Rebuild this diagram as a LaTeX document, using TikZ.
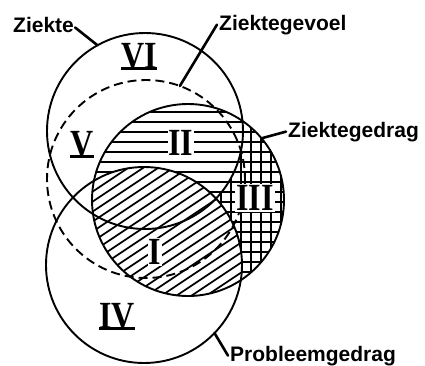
\documentclass[tikz,border=0pt]{standalone}
\usepackage{fontspec}
\setmainfont{Liberation Serif}
\setsansfont{Liberation Sans}
\usetikzlibrary{positioning}
\newcommand{\barnum}[1]{\setbox0=\hbox{#1}\rlap{\rule[-1.2pt]{\wd0}{2.4pt}}\box0}
\newcommand{\tallnum}[1]{\scalebox{1}[1.2]{#1}}

\begin{document}
\begin{tikzpicture}[x=1pt, y=-1pt,
    ring/.style={draw=black, line width=1.9pt},
    hatch/.style={line width=1.7pt},
    leader/.style={line width=2.6pt, line cap=round},
    lbl/.style={font=\sffamily\bfseries\fontsize{21}{21}\selectfont, anchor=base west, inner sep=0pt},
    num/.style={font=\rmfamily\bfseries\fontsize{32}{32}\selectfont, inner sep=1pt}]

  \useasboundingbox (0,0) rectangle (425,365);

  % circle centres
  \coordinate (zk) at (145,131);  % Ziekte
  \coordinate (gv) at (146,179);  % Ziektegevoel
  \coordinate (gd) at (188,200);  % Ziektegedrag
  \coordinate (pg) at (144,265);  % Probleemgedrag

  % hatching inside Ziektegedrag
  \begin{scope}
    \clip (gd) circle (96);
    \foreach \x in {221,231,...,291} \draw[hatch] (\x,100) -- (\x,300);
    \fill[white] (zk) circle (98) (pg) circle (98);
    \foreach \y in {102,112,...,302} \draw[hatch] (90,\y) -- (290,\y);
    \clip (pg) circle (98);
    \fill[white] (pg) circle (98);
    \foreach \c in {150,160,...,500} \draw[hatch] (80,\c) -- ++(240,-160);
  \end{scope}

  % the four circles
  \draw[ring] (zk) circle (98);
  \draw[ring, dash pattern=on 9pt off 5pt] (gv) circle (99);
  \draw[ring] (gd) circle (96);
  \draw[ring] (pg) circle (98);

  % labels
  \node[lbl] (lZk) at (13,32) {Ziekte};
  \node[lbl] (lGv) at (219,30) {Ziektegevoel};
  \node[lbl] (lGd) at (288,137) {Ziektegedrag};
  \node[lbl] (lPg) at (230,361) {Probleemgedrag};

  \path (zk) ++(241:98) coordinate (zkTip);
  \path (gv) ++(-70:99) coordinate (gvTip);
  \path (gd) ++(-40:96) coordinate (gdTip);
  \path (pg) ++(44:98) coordinate (pgTip);

  \draw[leader] ([xshift=1pt,yshift=-3pt]lZk.east) -- (zkTip);
  \draw[leader] ([xshift=-2pt]lGv.west) -- (gvTip);
  \draw[leader] (gdTip) -- ([xshift=-2pt]lGd.west);
  \draw[leader] (pgTip) -- ([xshift=-2pt]lPg.west);

  % region numbers
  \node[num] (nVI) at (139,57) {\tallnum{\barnum{VI}}};
  \node[num] (nV) at (82,145) {\tallnum{\barnum{V}}};
  \node[num, fill=white] (nII) at (181,143) {\tallnum{II}};
  \node[num, fill=white] (nIII) at (255,198) {\tallnum{III}};
  \node[num, fill=white] (nI) at (155,252) {\tallnum{I}};
  \node[num] (nIV) at (117,317) {\tallnum{\barnum{IV}}};
\end{tikzpicture}
\end{document}
